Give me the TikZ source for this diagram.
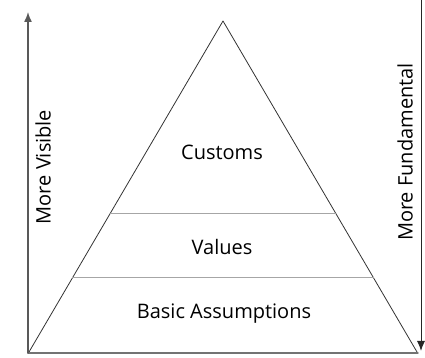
\documentclass[tikz,border=0pt]{standalone}
\usepackage{fontspec}
\setmainfont{Open Sans}
\usetikzlibrary{calc,arrows.meta}
\begin{document}
\begin{tikzpicture}[line cap=round, line join=round, x=1pt, y=1pt,
		level/.style={font=\fontsize{20}{24}\selectfont, text=black},
		side/.style={font=\fontsize{20}{24}\selectfont, text=black, rotate=90},
		divider/.style={black!35, line width=0.9pt},
		tip/.style={-{Latex[length=10pt,width=8pt]}}]
	\useasboundingbox (0,0) rectangle (425,358);
	\coordinate (apex) at (223,337);
	\coordinate (left) at (29,6);
	\coordinate (right) at (417,6);
	% pyramid
	\draw[black!80, line width=0.8pt] (left) -- (apex) -- (right);
	\draw[black!55, line width=1.4pt] (28,5) coordinate (base l) -- (418,5) coordinate (base r);
	\draw[divider] ($(left)!0.42!(apex)$) coordinate (d1l) -- ($(right)!0.42!(apex)$) coordinate (d1r);
	\draw[divider] ($(left)!0.224!(apex)$) coordinate (d2l) -- ($(right)!0.224!(apex)$) coordinate (d2r);
	\node[level] (customs) at (222,206) {Customs};
	\node[level] (values) at (222,111) {Values};
	\node[level] (basic) at (224,44) {Basic Assumptions};
	% arrows
	\coordinate (vis top) at (28,346);
	\draw[tip, black!65, line width=1.4pt] (base l) -- (vis top);
	\coordinate (fund top) at (421,358);
	\coordinate (fund bot) at (421,7);
	\draw[tip, black!85, line width=1pt] (fund top) -- (fund bot);
	\node[side] (visible) at (43,191) {More Visible};
	\node[side] (fundamental) at (405,206) {More Fundamental};
\end{tikzpicture}
\end{document}
